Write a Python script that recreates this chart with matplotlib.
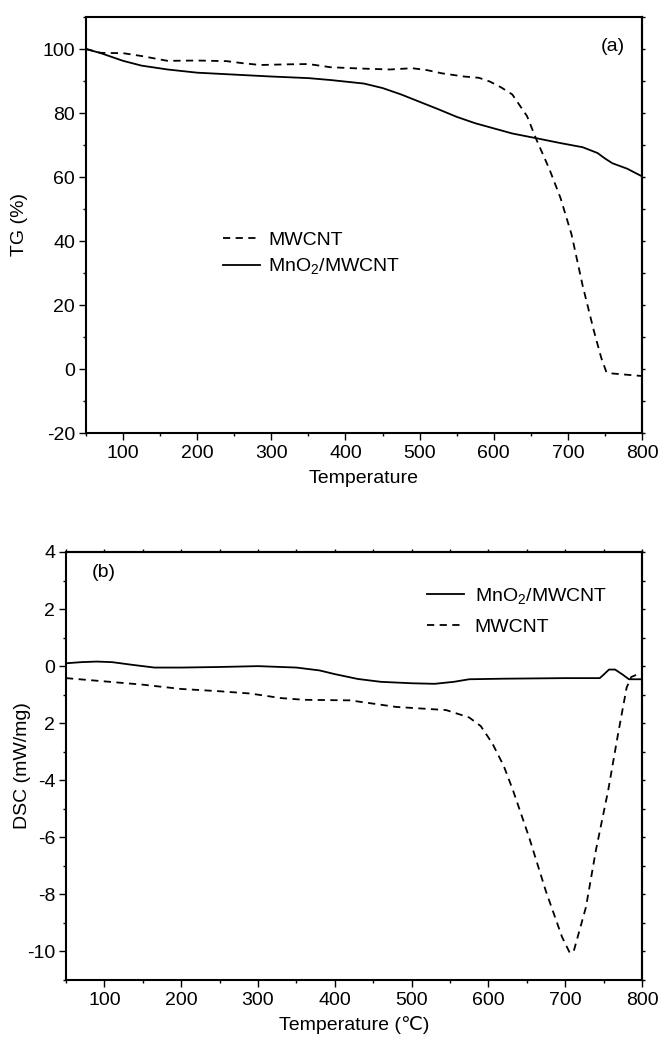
import matplotlib

matplotlib.use("Agg")
import matplotlib.pyplot as plt
import numpy as np
from matplotlib.ticker import MultipleLocator, FixedLocator

plt.rcParams["font.family"] = ["Liberation Sans", "DejaVu Sans"]
plt.rcParams["mathtext.fontset"] = "custom"
plt.rcParams["mathtext.rm"] = "Liberation Sans"
plt.rcParams["axes.unicode_minus"] = False

FS = 14

# (a) TG curves
TG_CNT_T = [50, 70, 100, 125, 160, 200, 240, 260, 285, 320, 350, 380, 420, 460, 490, 510, 530,
            560, 580, 595, 610, 625, 645, 657, 675, 690, 705, 720, 735, 745, 752, 760, 780, 800]
TG_CNT = [100, 98.8, 98.7, 97.8, 96.3, 96.4, 96.2, 95.6, 95.0, 95.2, 95.3, 94.3, 93.9, 93.6, 94.0, 93.4, 92.4,
          91.4, 91.0, 89.8, 88.0, 85.8, 79.0, 72.0, 62.5, 53.5, 42.0, 26.0, 12.0, 3.5, -1.0, -1.4, -1.8, -2.2]

TG_MNO_T = [50, 70, 85, 100, 125, 160, 200, 250, 300, 350, 380, 425, 450, 475, 500, 525, 550,
            575, 600, 625, 660, 690, 720, 740, 750, 760, 780, 800]
TG_MNO = [100, 98.7, 97.5, 96.3, 94.8, 93.6, 92.6, 92.0, 91.4, 90.9, 90.3, 89.2, 87.8, 85.8, 83.5, 81.2, 78.8,
          76.8, 75.2, 73.6, 72.0, 70.6, 69.3, 67.5, 65.8, 64.3, 62.6, 60.2]

# (b) DSC curves
DSC_MNO_T = [50, 70, 90, 110, 135, 165, 200, 250, 300, 350, 380, 400, 430, 460, 500, 530, 555,
             575, 620, 700, 745, 750, 757, 765, 775, 783, 800]
DSC_MNO = [0.1, 0.14, 0.16, 0.14, 0.05, -0.05, -0.05, -0.03, 0.0, -0.05, -0.15, -0.28, -0.45, -0.55, -0.6,
           -0.62, -0.55, -0.46, -0.44, -0.42, -0.42, -0.3, -0.12, -0.12, -0.3, -0.46, -0.46]

DSC_CNT_T = [50, 107, 150, 200, 250, 290, 330, 360, 420, 480, 545, 575, 590, 605, 620, 632, 653, 675,
             696, 706, 711, 727, 740, 756, 769, 780, 786, 795, 800]
DSC_CNT = [-0.42, -0.55, -0.65, -0.8, -0.88, -0.96, -1.12, -1.18, -1.2, -1.43, -1.54, -1.8, -2.1, -2.7,
           -3.5, -4.35, -6.0, -7.9, -9.5, -10.05, -10.0, -8.45, -6.45, -4.35, -2.35, -0.75, -0.38, -0.28, -0.3]

X_TICKS = [100, 200, 300, 400, 500, 600, 700, 800]
TG_TICKS = [-20, 0, 20, 40, 60, 80, 100]
DSC_TICKS = [-10, -8, -6, -4, -2, 0, 2, 4]
DSC_TICK_LABELS = ["-10", "-8", "-6", "-4", "2", "0", "2", "4"]

W, H = 658, 1037
DASH = (0, (4, 3))


def px_axes(fig, left, top, right, bottom):
    return fig.add_axes([left / W, 1 - bottom / H, (right - left) / W, (bottom - top) / H])


def style(ax, ymin, ymax, yminor, top_ticks):
    for s in ax.spines.values():
        s.set_linewidth(1.5)
    ax.set_xlim(50, 800)
    ax.set_ylim(ymin, ymax)
    ax.xaxis.set_major_locator(FixedLocator(X_TICKS))
    ax.xaxis.set_minor_locator(MultipleLocator(50))
    ax.yaxis.set_minor_locator(MultipleLocator(yminor))
    ax.tick_params(which="major", direction="out", length=4.8, width=1.0, labelsize=FS, pad=3)
    ax.tick_params(which="minor", direction="out", length=2.5, width=1.0)
    ax.tick_params(axis="x", which="major", pad=4)
    sec = ax.secondary_yaxis("right")
    sec.set_yticks(np.arange(ymin, ymax + 0.01, yminor))
    sec.set_yticklabels([])
    sec.tick_params(direction="out", length=2.2, width=1.0)
    sec.spines["right"].set_linewidth(1.5)
    if top_ticks:
        sx = ax.secondary_xaxis("top")
        sx.set_xticks(np.arange(50, 801, 50))
        sx.set_xticklabels([])
        sx.tick_params(direction="out", length=2.2, width=1.0)
        sx.spines["top"].set_linewidth(1.5)


fig = plt.figure(figsize=(W / 100, H / 100), dpi=100)

ax1 = px_axes(fig, 86, 17, 642, 433)
ax1.plot(TG_CNT_T, TG_CNT, color="black", lw=1.3, linestyle=DASH, label="MWCNT")
ax1.plot(TG_MNO_T, TG_MNO, color="black", lw=1.3, label="MnO$_2$/MWCNT")
style(ax1, -20, 110, 10, False)
ax1.set_yticks(TG_TICKS)
ax1.set_ylabel("TG (%)", fontsize=FS)
ax1.yaxis.set_label_coords(-0.104, 0.5)
ax1.set_xlabel("Temperature", fontsize=FS)
ax1.xaxis.set_label_coords(0.5, -0.09)
ax1.text(0.925, 0.928, "(a)", transform=ax1.transAxes, fontsize=FS, va="center", ha="left")
ax1.legend(loc="center left", bbox_to_anchor=(0.246, 0.43), frameon=False, fontsize=FS,
           handlelength=1.9, handletextpad=0.45, labelspacing=0.4, borderpad=0, borderaxespad=0)

ax2 = px_axes(fig, 66, 552, 642, 980)
ax2.plot(DSC_MNO_T, DSC_MNO, color="black", lw=1.3, label="MnO$_2$/MWCNT")
ax2.plot(DSC_CNT_T, DSC_CNT, color="black", lw=1.3, linestyle=DASH, label="MWCNT")
style(ax2, -11, 4, 1, True)
ax2.set_yticks(DSC_TICKS)
ax2.set_yticklabels(DSC_TICK_LABELS)
ax2.set_ylabel("DSC (mW/mg)", fontsize=FS)
ax2.yaxis.set_label_coords(-0.06, 0.5)
ax2.set_xlabel("Temperature (\u2103)", fontsize=FS)
ax2.xaxis.set_label_coords(0.5, -0.085)
ax2.text(0.045, 0.953, "(b)", transform=ax2.transAxes, fontsize=FS, va="center", ha="left")
ax2.legend(loc="center left", bbox_to_anchor=(0.627, 0.862), frameon=False, fontsize=FS,
           handlelength=1.9, handletextpad=0.55, labelspacing=0.6, borderpad=0, borderaxespad=0)

fig.savefig("out.png", dpi=100)
